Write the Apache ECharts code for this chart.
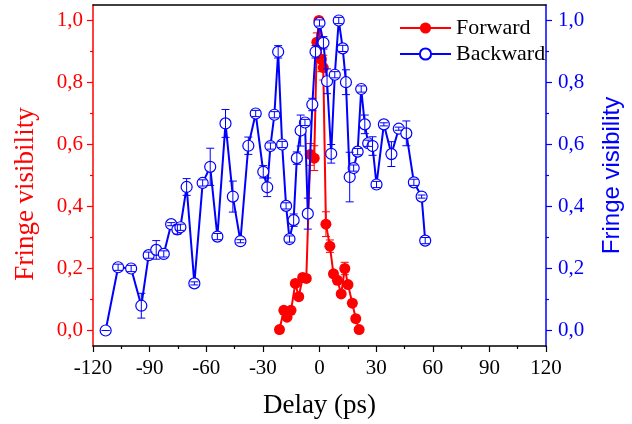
<!DOCTYPE html>
<html>
<head>
<meta charset="utf-8">
<script src="https://cdn.jsdelivr.net/npm/echarts@6/dist/echarts.min.js"></script>
<style>html,body{margin:0;padding:0;background:#fff}#c{width:632px;height:424px}</style>
</head>
<body>
<div id="c"></div>
<script>
// Forward (red, left axis)
const redX = [-21.2, -18.9, -17.2, -15.1, -12.8, -11.0, -8.9, -7.0, -4.9, -2.8, -1.4, -0.3, 1.0, 2.0, 3.4, 5.5, 7.4, 9.5, 11.5, 13.4, 15.1, 17.4, 19.2, 21.0];
const redY = [0.003, 0.065, 0.043, 0.065, 0.152, 0.109, 0.171, 0.168, 0.568, 0.556, 0.930, 1.000, 0.875, 0.848, 0.343, 0.272, 0.183, 0.162, 0.118, 0.200, 0.148, 0.088, 0.038, 0.003];
const redErr = [0.01, 0.01, 0.01, 0.01, 0.01, 0.01, 0.01, 0.01, 0.035, 0.04, 0.03, 0.01, 0.04, 0.04, 0.04, 0.02, 0.01, 0.01, 0.01, 0.02, 0.01, 0.01, 0.01, 0.01];

// Backward (blue, right axis)
const blueX = [-113.3, -106.7, -99.8, -94.4, -90.5, -86.5, -82.5, -78.6, -75.3, -73.7, -70.4, -66.3, -61.9, -57.9, -54.1, -49.8, -45.9, -41.9, -37.7, -33.8, -29.8, -27.7, -26.0, -23.9, -21.9, -19.8, -17.7, -15.9, -13.7, -12.0, -10.0, -7.7, -6.2, -3.8, -2.1, 0.0, 2.1, 4.0, 6.2, 8.1, 10.2, 12.3, 14.0, 16.0, 18.1, 20.2, 22.1, 24.0, 25.8, 28.1, 30.2, 34.1, 38.1, 42.0, 46.0, 50.0, 54.1, 56.0];
const blueY = [0.000, 0.204, 0.200, 0.080, 0.243, 0.260, 0.247, 0.343, 0.326, 0.333, 0.463, 0.152, 0.476, 0.528, 0.303, 0.668, 0.432, 0.288, 0.596, 0.700, 0.512, 0.462, 0.595, 0.696, 0.899, 0.600, 0.402, 0.295, 0.356, 0.556, 0.645, 0.671, 0.377, 0.729, 0.899, 0.992, 0.928, 0.804, 0.570, 0.825, 1.000, 0.910, 0.801, 0.495, 0.524, 0.577, 0.779, 0.665, 0.604, 0.595, 0.471, 0.665, 0.569, 0.651, 0.636, 0.478, 0.432, 0.290];
const blueErr = [0.0, 0.01, 0.01, 0.04, 0.01, 0.03, 0.01, 0.005, 0.015, 0.01, 0.027, 0.005, 0.01, 0.06, 0.01, 0.045, 0.05, 0.005, 0.028, 0.01, 0.02, 0.03, 0.01, 0.01, 0.02, 0.01, 0.01, 0.01, 0.02, 0.02, 0.05, 0.01, 0.05, 0.02, 0.02, 0.01, 0.02, 0.04, 0.03, 0.01, 0.01, 0.01, 0.04, 0.08, 0.01, 0.01, 0.01, 0.03, 0.01, 0.03, 0.01, 0.005, 0.04, 0.005, 0.04, 0.01, 0.005, 0.01];

const yTickValues = [0, 0.2, 0.4, 0.6, 0.8, 1.0];
const yMinorValues = [0.1, 0.3, 0.5, 0.7, 0.9];

const RED = '#ff0000', BLUE = '#0000ff';
const SERIF = '"Liberation Serif", "Times New Roman", serif';
const SANS = '"Liberation Sans", Arial, sans-serif';

function pairs(xs, ys) { return xs.map((x, i) => [x, ys[i]]); }
function errData(xs, ys, es) { return xs.map((x, i) => [x, ys[i] - es[i], ys[i] + es[i]]); }
function errRenderer(color) {
  return function (params, api) {
    const x = api.value(0), lo = api.value(1), hi = api.value(2);
    const a = api.coord([x, lo]), b = api.coord([x, hi]);
    const w = 4;
    const st = { stroke: color, lineWidth: 1 };
    return { type: 'group', children: [
      { type: 'line', shape: { x1: a[0], y1: a[1], x2: b[0], y2: b[1] }, style: st },
      { type: 'line', shape: { x1: a[0] - w, y1: a[1], x2: a[0] + w, y2: a[1] }, style: st },
      { type: 'line', shape: { x1: b[0] - w, y1: b[1], x2: b[0] + w, y2: b[1] }, style: st }
    ]};
  };
}
const fmt = v => v.toFixed(1).replace('.', ',');

function yAx(pos, color, major, extra) {
  return Object.assign({
    type: 'value', position: pos, min: -0.05, max: 1.05, offset: 0,
    axisLine: { show: major, onZero: false, lineStyle: { color: color, width: 1.5 } },
    axisTick: { show: true, inside: false, length: major ? 6 : 3, customValues: major ? yTickValues : yMinorValues, lineStyle: { color: color, width: 1.2 } },
    axisLabel: { show: major, customValues: yTickValues, formatter: fmt, color: color, fontFamily: SERIF, fontSize: 21, margin: pos === 'left' ? 10 : 12 },
    splitLine: { show: false }
  }, extra || {});
}

const chart = echarts.init(document.getElementById('c'), null, { renderer: 'canvas' });
chart.setOption({
  animation: false,
  backgroundColor: '#fff',
  grid: { left: 93, right: 83, top: 5, bottom: 74, containLabel: false },
  legend: {
    data: ['Forward', 'Backward'], orient: 'vertical', left: 394, top: 12,
    itemWidth: 51, itemHeight: 14, itemGap: 4,
    textStyle: { fontFamily: SERIF, fontSize: 22, color: '#000' }
  },
  xAxis: [{
    type: 'value', min: -120, max: 120, interval: 30, position: 'bottom',
    name: 'Delay (ps)', nameLocation: 'middle', nameGap: 46,
    nameTextStyle: { fontFamily: SERIF, fontSize: 27, color: '#000' },
    axisLine: { onZero: false, lineStyle: { color: '#000', width: 1.5 } },
    axisTick: { inside: false, length: 6, lineStyle: { color: '#000', width: 1.2 } },
    minorTick: { show: true, splitNumber: 2, length: 3, lineStyle: { color: '#000', width: 1.2 } },
    axisLabel: { color: '#000', fontFamily: SERIF, fontSize: 21, margin: 12 },
    splitLine: { show: false }
  }, {
    type: 'value', min: -120, max: 120, position: 'top',
    axisLine: { show: true, onZero: false, lineStyle: { color: '#000', width: 1.5 } },
    axisTick: { show: false }, axisLabel: { show: false }, splitLine: { show: false }
  }],
  yAxis: [
    yAx('left', RED, true, {
      name: 'Fringe visibility', nameLocation: 'middle', nameGap: 54, nameRotate: 90,
      nameTextStyle: { fontFamily: SERIF, fontSize: 27, color: RED, padding: [0, 37, 0, 0] }
    }),
    yAx('left', RED, false),
    yAx('right', BLUE, true, {
      name: 'Fringe visibility', nameLocation: 'middle', nameGap: 54, nameRotate: 90,
      nameTextStyle: { fontFamily: SANS, fontSize: 24, color: BLUE }
    }),
    yAx('right', BLUE, false)
  ],
  series: [
    {
      name: 'Forward', type: 'line', xAxisIndex: 0, yAxisIndex: 0, data: pairs(redX, redY),
      symbol: 'circle', symbolSize: 11, z: 2,
      lineStyle: { color: RED, width: 2 }, itemStyle: { color: RED }
    },
    {
      name: 'ForwardErr', type: 'custom', xAxisIndex: 0, yAxisIndex: 0, z: 3,
      data: errData(redX, redY, redErr), renderItem: errRenderer(RED), silent: true
    },
    {
      name: 'Backward', type: 'line', xAxisIndex: 0, yAxisIndex: 2, data: pairs(blueX, blueY),
      symbol: 'circle', symbolSize: 11, showAllSymbol: true, z: 4,
      lineStyle: { color: BLUE, width: 2 },
      itemStyle: { color: '#fff', borderColor: BLUE, borderWidth: 1.2 }
    },
    {
      name: 'BackwardErr', type: 'custom', xAxisIndex: 0, yAxisIndex: 2, z: 5,
      data: errData(blueX, blueY, blueErr), renderItem: errRenderer(BLUE), silent: true
    }
  ]
});
</script>
</body>
</html>
